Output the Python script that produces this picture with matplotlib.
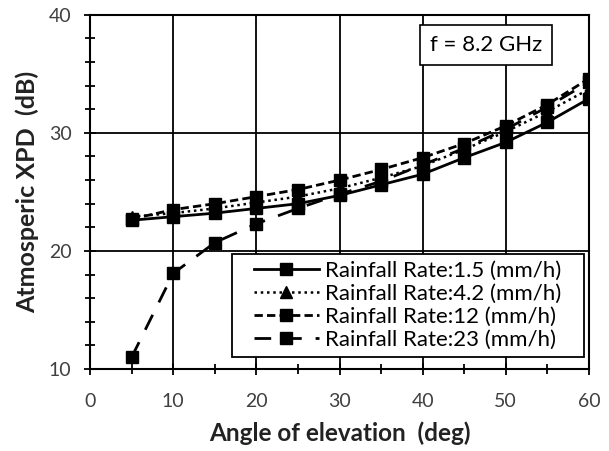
import numpy as np
import matplotlib.pyplot as plt
from matplotlib.patches import Rectangle
from matplotlib.ticker import MultipleLocator

# elevation angle (deg)
angle = [5, 10, 15, 20, 25, 30, 35, 40, 45, 50, 55, 60]

# atmospheric XPD (dB) for each rainfall rate
xpd_1_5 = [22.6, 22.9, 23.2, 23.6, 24.0, 24.7, 25.6, 26.5, 27.9, 29.2, 30.9, 32.9]
xpd_4_2 = [22.9, 23.2, 23.6, 24.1, 24.6, 25.3, 26.2, 27.2, 28.6, 30.1, 31.8, 33.7]
xpd_12 = [22.7, 23.5, 24.0, 24.6, 25.2, 26.0, 26.9, 27.9, 29.1, 30.6, 32.4, 34.6]
xpd_23 = [11.0, 18.1, 20.7, 22.3, 23.6, 24.8, 25.9, 27.3, 28.7, 30.3, 32.2, 34.3]

labels = ['Rainfall Rate:1.5 (mm/h)', 'Rainfall Rate:4.2 (mm/h)',
          'Rainfall Rate:12 (mm/h)', 'Rainfall Rate:23 (mm/h)']

plt.rcParams['font.family'] = ['Lato', 'DejaVu Sans']

fig = plt.figure(figsize=(6.09, 4.51), dpi=100)
ax = fig.add_axes([0.148, 0.182, 0.819, 0.785])

ax.plot(angle, xpd_1_5, color='black', lw=2, ls='-', marker='s', ms=8, label=labels[0])
ax.plot(angle, xpd_4_2, color='black', lw=1.8, ls=(0, (1, 1.5)), marker='^', ms=8, label=labels[1])
ax.plot(angle, xpd_12, color='black', lw=2, ls=(0, (3, 1.5)), marker='s', ms=8, label=labels[2])
ax.plot(angle, xpd_23, color='black', lw=2, ls=(0, (6, 5)), marker='s', ms=8, label=labels[3])

ax.set_xlim(0, 60)
ax.set_ylim(10, 40)
ax.xaxis.set_major_locator(MultipleLocator(10))
ax.xaxis.set_minor_locator(MultipleLocator(5))
ax.yaxis.set_major_locator(MultipleLocator(10))
ax.yaxis.set_minor_locator(MultipleLocator(2))
ax.tick_params(which='major', direction='inout', length=9, width=1.3, labelsize=14,
               colors='black', labelcolor='#404040')
ax.tick_params(which='minor', direction='inout', length=7, width=1.3)
ax.tick_params(axis='x', which='major', pad=13)
ax.tick_params(axis='y', which='major', pad=9)
ax.grid(True, which='major', color='black', lw=1.3)

for s in ax.spines.values():
    s.set_linewidth(1.5)

ax.set_xlabel('Angle of elevation  (deg)', fontsize=17.5, fontweight='bold', color='#222222', labelpad=8)
ax.set_ylabel('Atmosperic XPD  (dB)', fontsize=18, fontweight='bold', color='#222222', labelpad=7)

ax.text(47.6, 37.45, 'f = 8.2 GHz', fontsize=16, ha='center', va='center',
        bbox=dict(boxstyle='square,pad=0.45', fc='white', ec='black', lw=1.2))

# legend frame is wider than the entries, so draw it separately
ax.add_patch(Rectangle((0.2846, 0.034), 0.7054, 0.291, transform=ax.transAxes,
                       fc='white', ec='black', lw=1.3, zorder=4))
leg = ax.legend(loc='center', bbox_to_anchor=(0.637, 0.18), fontsize=16,
                handlelength=2.9, handletextpad=0.3, labelspacing=0.13,
                borderpad=0.1, frameon=False)
leg.set_zorder(5)

fig.savefig('out.png', dpi=100)
